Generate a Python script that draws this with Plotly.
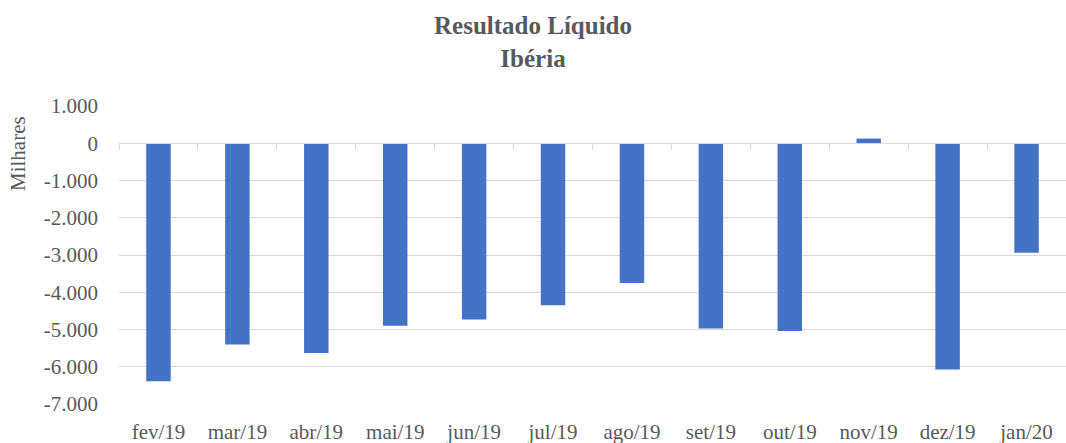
"""
Resultado Líquido - Ibéria (barras mensais, milhares)
"""

import plotly.graph_objects as go

# Dados
meses = ['fev/19', 'mar/19', 'abr/19', 'mai/19', 'jun/19', 'jul/19',
         'ago/19', 'set/19', 'out/19', 'nov/19', 'dez/19', 'jan/20']
resultado = [-6390, -5400, -5630, -4900, -4730, -4350,
             -3750, -4975, -5040, 125, -6075, -2940]

y_ticks = [1000, 0, -1000, -2000, -3000, -4000, -5000, -6000, -7000]
y_labels = ['1.000', '0', '-1.000', '-2.000', '-3.000', '-4.000',
            '-5.000', '-6.000', '-7.000']

FONTE = 'Liberation Serif, serif'
COR_TEXTO = '#595959'
COR_GRELHA = '#d9d9d9'

W, H = 1066, 443
M_L, M_R, M_T, M_B = 119, 0, 106, 39

fig = go.Figure()

fig.add_trace(go.Bar(
    x=meses, y=resultado,
    marker=dict(color='#4472C4', line=dict(width=0)),
    showlegend=False
))

# eixo auxiliar para as marcas na linha do zero
fig.add_trace(go.Scatter(
    x=meses, y=[0] * len(meses),
    mode='none', xaxis='x2',
    showlegend=False, hoverinfo='skip'
))

y_min, y_max = -7000, 1000

plot_w = W - M_L - M_R
plot_h = H - M_T - M_B

fig.update_layout(
    width=W, height=H,
    margin=dict(l=M_L, r=M_R, t=M_T, b=M_B),
    paper_bgcolor='white',
    plot_bgcolor='white',
    font=dict(family=FONTE, color=COR_TEXTO, size=21),
    bargap=0.69,
    title=dict(
        text='<b>Resultado Líquido<br>Ibéria</b>',
        x=0.5, xref='container', xanchor='center',
        y=1 - 34 / H, yref='container', yanchor='middle',
        font=dict(family=FONTE, size=25, color=COR_TEXTO)
    ),
    xaxis=dict(
        showline=False, showgrid=False, zeroline=False,
        ticks='', tickfont=dict(size=21, color=COR_TEXTO),
        ticklabelstandoff=13
    ),
    xaxis2=dict(
        overlaying='x', anchor='free',
        position=(0 - y_min) / (y_max - y_min),
        matches='x',
        showline=True, linecolor=COR_GRELHA, linewidth=1,
        ticks='outside', tickson='boundaries', ticklen=6,
        tickcolor=COR_GRELHA, tickwidth=1,
        showticklabels=False, showgrid=False, zeroline=False
    ),
    yaxis=dict(
        range=[y_min, y_max],
        tickvals=y_ticks, ticktext=y_labels,
        showgrid=True, gridcolor=COR_GRELHA, gridwidth=1,
        zeroline=False, showline=False, ticks='',
        tickfont=dict(size=21, color=COR_TEXTO),
        ticklabelstandoff=20
    ),
    annotations=[dict(
        text='Milhares', textangle=-90,
        x=(18 - M_L) / plot_w, xref='paper',
        y=(H - M_B - 154) / plot_h, yref='paper',
        xanchor='center', yanchor='middle',
        showarrow=False,
        font=dict(family=FONTE, size=21, color=COR_TEXTO)
    )]
)

fig.write_html("out.html", config={'displayModeBar': False},
               post_script="document.body.style.margin='0';")
